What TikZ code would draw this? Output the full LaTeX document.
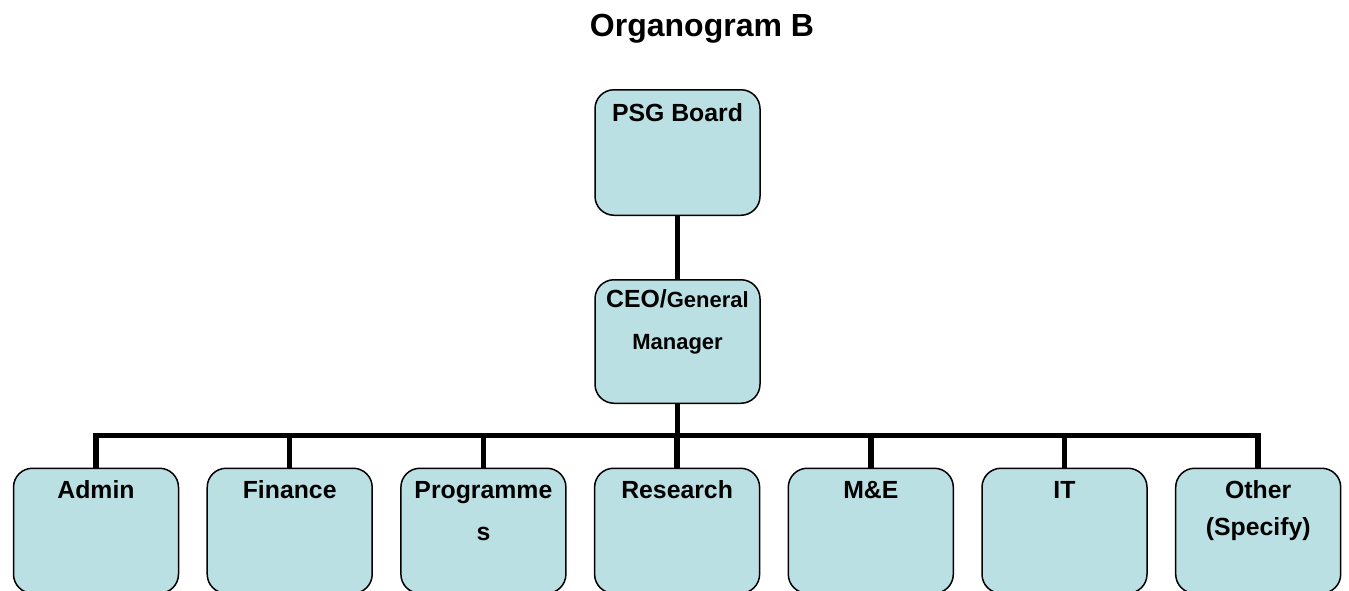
\documentclass[tikz,border=0pt]{standalone}
\usepackage{fontspec}
\setmainfont{Liberation Sans}
\usetikzlibrary{positioning}
\definecolor{boxblue}{RGB}{187,224,227}
\tikzset{
    orgbox/.style={draw=black, line width=1.5pt, fill=boxblue, rounded corners=19pt,
        minimum width=165pt, minimum height=125pt, inner sep=0pt, anchor=north},
    boxtext/.style={font=\bfseries\fontsize{24.8}{28}\selectfont, anchor=base, inner sep=0pt},
    smalltext/.style={font=\bfseries\fontsize{22}{26}\selectfont, anchor=base, inner sep=0pt},
    link/.style={line width=5.5pt},
}
\begin{document}
\begin{tikzpicture}[x=1pt,y=-1pt]
            \useasboundingbox (0,0) rectangle (1349,590);
            \node[font=\bfseries\fontsize{32}{38}\selectfont, anchor=base, inner sep=0pt] (title) at (702,36.7) {Organogram B};
            % top of the chart
            \node[orgbox, minimum height=125.5pt] (board) at (677.5,89) {};
            \node[boxtext] (boardtxt) at ([yshift=-32pt]board.north) {PSG Board};
            \node[orgbox, minimum height=123.5pt] (ceo) at (677.5,279) {};
            \node[boxtext] (ceotxt) at ([yshift=-28pt]ceo.north) {CEO/{\fontsize{22}{26}\selectfont General}};
            \node[smalltext] (ceotxtb) at ([yshift=-70pt]ceo.north) {Manager};
            \draw[link] (board.south) -- (ceo.north);
            \coordinate (bar) at (677.5,435.5);
            % departments
            \foreach \name/\first/\second/\gap [count=\i from 0] in {admin/Admin//0, finance/Finance//0, prog/Programme/s/73, research/Research//0, mande/M\&E//0, it/IT//0, other/Other/(Specify)/68}{
                \node[orgbox] (\name) at ({96+193.7*\i},467.5) {};
                \node[boxtext] (\name txt) at ([yshift=-31pt]\name.north) {\first};
                \node[boxtext] (\name txtb) at ([yshift=-\gap pt]\name.north) {\second};
                \draw[link] (ceo.south) -- (bar) -| (\name.north);
            }
        \end{tikzpicture}
\end{document}
